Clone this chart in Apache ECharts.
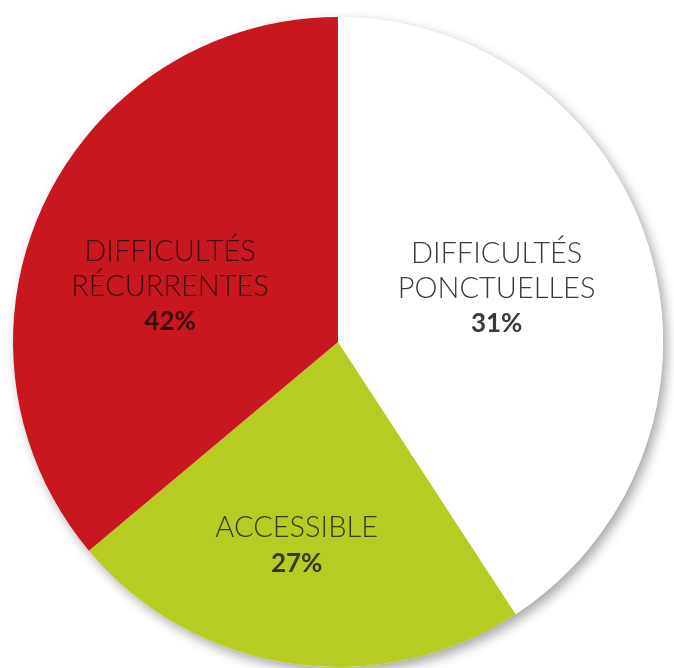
<!DOCTYPE html>
<html>
<head>
<meta charset="utf-8">
<script src="https://cdn.jsdelivr.net/npm/echarts@6/dist/echarts.min.js"></script>
<style>html,body{margin:0;padding:0;background:#fff}#c{width:674px;height:668px}</style>
</head>
<body>
<div id="c"></div>
<script>
// Categories, clockwise from 12 o'clock
const categories = ['DIFFICULTÉS\nPONCTUELLES', 'ACCESSIBLE', 'DIFFICULTÉS\nRÉCURRENTES'];
const sliceShares = [40.8, 23.1, 36.1];
// Percentages printed on the slices
const printedPercent = ['31%', '27%', '42%'];

const colors = ['#ffffff', '#b6cc22', '#c8171e'];
const nameColors = ['#3a3a3a', '#333a14', '#3a0e0e'];
const labelOffsets = [[0, -6], [-17, 40], [-18, 15]];

const chart = echarts.init(document.getElementById('c'), null, {renderer: 'canvas'});
chart.setOption({
  backgroundColor: '#ffffff',
  animation: false,
  series: [
    {
      type: 'pie', silent: true, center: [338, 342], radius: 325,
      label: {show: false}, labelLine: {show: false},
      data: [{value: sliceShares.reduce((a, b) => a + b, 0)}],
      itemStyle: {color: '#ffffff', shadowBlur: 12, shadowColor: 'rgba(0,0,0,0.35)', shadowOffsetX: 4, shadowOffsetY: 5}
    },
    {
      type: 'pie', center: [338, 342], radius: 325, startAngle: 90, clockwise: true,
      avoidLabelOverlap: false,
      labelLine: {show: false},
      itemStyle: {borderWidth: 0},
      data: categories.map((c, i) => ({
        name: c, value: sliceShares[i],
        itemStyle: {color: colors[i]},
        label: {
          show: true, position: 'inside', offset: labelOffsets[i],
          formatter: () => c.split('\n').map(s => '{n|' + s + '}').join('\n') + '\n{p|' + printedPercent[i] + '}',
          rich: {
            n: {fontFamily: 'Lato', fontSize: 29, fontWeight: 300, color: nameColors[i], lineHeight: 35, align: 'center'},
            p: {fontFamily: 'Lato', fontSize: 26, fontWeight: 'bold', color: nameColors[i], lineHeight: 36, align: 'center'}
          }
        }
      }))
    }
  ]
});
</script>
</body>
</html>
